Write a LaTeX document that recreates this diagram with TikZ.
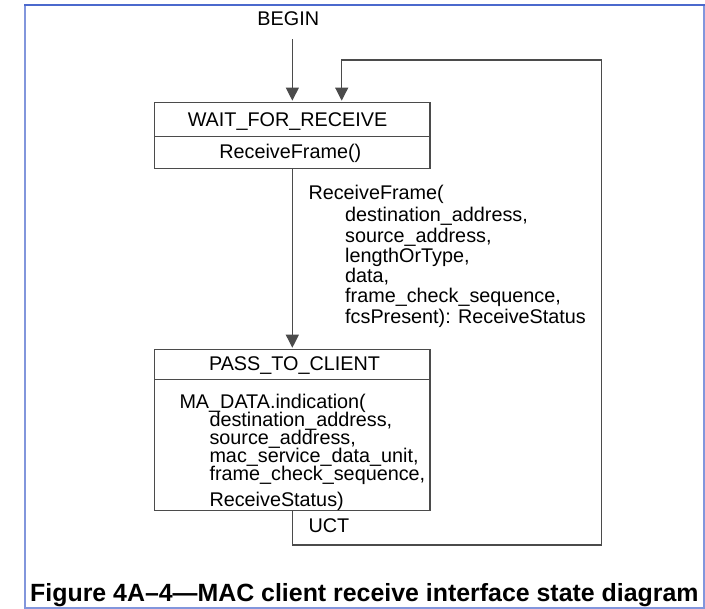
\documentclass[tikz,border=0pt]{standalone}
\usepackage{fontspec}
\setmainfont{Liberation Sans}
\usetikzlibrary{arrows.meta}
\definecolor{linec}{RGB}{75,75,75}
\definecolor{framec}{RGB}{130,150,220}
\definecolor{frametop}{RGB}{75,105,205}
\newcommand{\indA}{\hspace*{36.7pt}}
\newcommand{\indB}{\hspace*{30pt}}
\newcommand{\srow}[1]{\smash{#1}}
\begin{document}
\begin{tikzpicture}[x=1pt,y=1pt,
  txt/.style={font=\fontsize{19.8}{20.3}\selectfont, inner sep=0pt, text=black},
  statebox/.style={draw=linec, line width=1.1pt, minimum width=275.3pt, inner sep=0pt},
  arr/.style={draw=linec, line width=1.1pt, -{Triangle[width=13pt,length=13pt]}},
  conn/.style={draw=linec, line width=1.1pt}]
\useasboundingbox (0,0) rectangle (705,-609);
\draw[framec, line width=1.5pt] (25,-5) rectangle (704,-608);
\draw[frametop, line width=2pt] (24,-5) -- (705,-5);

% states
\node[statebox, minimum height=66pt] (wait) at (292.35,-135.7) {};
\draw[conn] ([yshift=-34pt]wait.north west) -- ([yshift=-34pt]wait.north east);
\node[statebox, minimum height=161.4pt] (pass) at (292.35,-430) {};
\draw[conn] ([yshift=-30.7pt]pass.north west) -- ([yshift=-30.7pt]pass.north east);

% texts in states
\node[txt, anchor=base] (waitname) at (287.5,-126.7) {WAIT\_FOR\_RECEIVE};
\node[txt, anchor=base] (waitact) at (290.3,-158.3) {ReceiveFrame()};
\node[txt, anchor=base] (passname) at (294.5,-370.7) {PASS\_TO\_CLIENT};
\node[txt, anchor=base west] (passact) at (179.3,-408.3) {\fontsize{19.8}{18.1}\selectfont\begin{tabular}[t]{@{}l@{}}\srow{MA\_DATA.indication(}\\
\srow{\indB destination\_address,}\\
\srow{\indB source\_address,}\\
\srow{\indB mac\_service\_data\_unit,}\\
\srow{\indB frame\_check\_sequence,}\\[7.9pt]
\srow{\indB ReceiveStatus)}\end{tabular}};

% begin
\node[txt, anchor=base] (begin) at (288.3,-26) {BEGIN};
\draw[arr, shorten <=13pt, shorten >=1.5pt] (begin.south -| wait.north) -- (wait.north);

% transition wait -> pass
\draw[arr, shorten >=1pt] (wait.south) -- (pass.north);
\node[txt, anchor=base west] (guard) at (308.3,-200) {\begin{tabular}[t]{@{}l@{}}\srow{ReceiveFrame(}\\[1.5pt]
\srow{\indA destination\_address,}\\
\srow{\indA source\_address,}\\
\srow{\indA lengthOrType,}\\
\srow{\indA data,}\\
\srow{\indA frame\_check\_sequence,}\\
\srow{\indA fcsPresent): ReceiveStatus}\end{tabular}};

% transition pass -> wait (UCT)
\coordinate (loopBR) at (601.7,-545);
\coordinate (loopTR) at (601.7,-60);
\draw[arr, shorten >=1.5pt] (pass.south) |- (loopBR) -- (loopTR) -| ([xshift=49.35pt]wait.north);
\node[txt, anchor=base west] (uct) at (308.3,-532.7) {UCT};

% caption
\node[anchor=base west, inner sep=0pt, text=black, font=\bfseries\fontsize{24.9}{30}\selectfont] (caption) at (30,-601.7) {Figure 4A–4—MAC client receive interface state diagram};
\end{tikzpicture}
\end{document}
